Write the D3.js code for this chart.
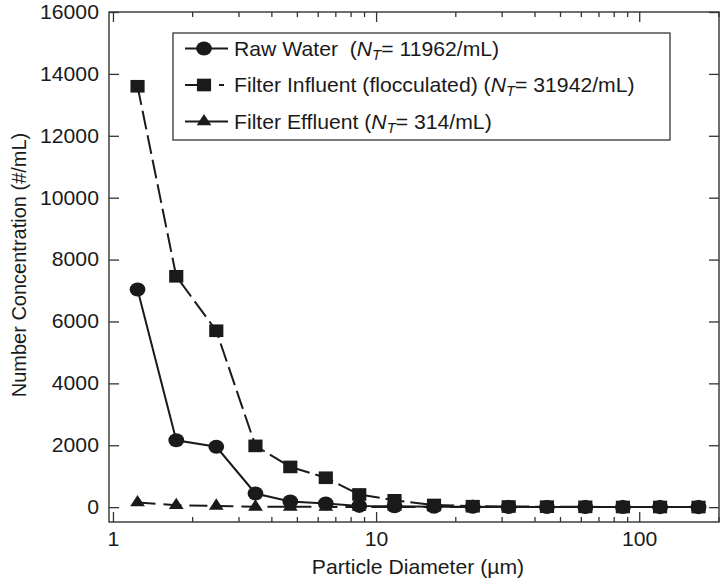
<!DOCTYPE html>
<html>
<head>
<meta charset="utf-8">
<script src="https://cdn.jsdelivr.net/npm/d3@7"></script>
<style>
  body { margin: 0; background: #fff; }
  svg { font-family: "Liberation Sans", Arial, Helvetica, sans-serif; }
  .axis path.domain { display: none; }
  .axis line { stroke: #333; stroke-width: 1.3; }
  .axis text { fill: #1a1a1a; font-size: 20px; }
</style>
</head>
<body>
<svg id="chart" width="722" height="584"></svg>
<script>
// particle size bins (µm) and counts (#/mL)
var diameters = [1.24, 1.74, 2.47, 3.48, 4.72, 6.44, 8.63, 11.75, 16.6, 23.3, 31.9, 44.6, 62.4, 86.7, 120, 168];
var rawWater = [7030, 2160, 1950, 440, 180, 120, 40, 30, 15, 10, 5, 5, 3, 2, 1, 1];
var filterInfluent = [13600, 7460, 5700, 1980, 1300, 950, 410, 220, 70, 30, 20, 15, 10, 5, 5, 3];
var filterEffluent = [150, 60, 40, 10, 10, 8, 6, 5, 5, 4, 3, 3, 2, 1, 1, 1];

var seriesNames = ["Raw Water", "Filter Influent (flocculated)", "Filter Effluent"];
var seriesTotals = ["11962/mL", "31942/mL", "314/mL"];
var seriesSpacer = ["  (", " (", " ("];

var yTicks = [0, 2000, 4000, 6000, 8000, 10000, 12000, 14000, 16000];
var xMajor = [1, 10, 100];
var xMinor = [2, 3, 4, 5, 6, 7, 8, 9, 20, 30, 40, 50, 60, 70, 80, 90, 200];

var sx = 1.06;   // text in the original runs a bit wide
var msx = 1.12;  // markers are a little wider than tall
var ink = "#1a1a1a";

var svg = d3.select("#chart");

var x = d3.scaleLog().domain([0.966, 201]).range([109, 719]);
var y = d3.scaleLinear().domain([-480, 16000]).range([522, 12]);

// frame
svg.append("rect")
    .attr("x", 109).attr("y", 12)
    .attr("width", 610).attr("height", 510)
    .attr("fill", "none").attr("stroke", "#333").attr("stroke-width", 1.4);

// bottom axis
svg.append("g").attr("class", "axis")
    .attr("transform", "translate(0,522)")
    .call(d3.axisBottom(x).tickValues(xMajor).tickFormat(d3.format("d")).tickSize(-10).tickPadding(10));
svg.append("g").attr("class", "axis")
    .attr("transform", "translate(0,522)")
    .call(d3.axisBottom(x).tickValues(xMinor).tickFormat("").tickSize(-5));

// top axis
svg.append("g").attr("class", "axis")
    .attr("transform", "translate(0,12)")
    .call(d3.axisTop(x).tickValues(xMajor).tickFormat("").tickSize(-10));
svg.append("g").attr("class", "axis")
    .attr("transform", "translate(0,12)")
    .call(d3.axisTop(x).tickValues(xMinor).tickFormat("").tickSize(-5));

// left + right axis
svg.append("g").attr("class", "axis")
    .attr("transform", "translate(109,0)")
    .call(d3.axisLeft(y).tickValues(yTicks).tickFormat(d3.format("d")).tickSize(-10).tickPadding(9.5));
svg.append("g").attr("class", "axis")
    .attr("transform", "translate(719,0)")
    .call(d3.axisRight(y).tickValues(yTicks).tickFormat("").tickSize(-10));

svg.selectAll(".axis text").attr("transform", "scale(" + sx + ",1)");

// axis titles
svg.append("text")
    .attr("transform", "translate(418,574) scale(" + sx + ",1)")
    .attr("text-anchor", "middle")
    .attr("fill", ink).style("font-size", "20px")
    .text("Particle Diameter (µm)");

svg.append("text")
    .attr("transform", "translate(26,265) rotate(-90)")
    .attr("text-anchor", "middle")
    .attr("fill", ink).style("font-size", "20px")
    .text("Number Concentration (#/mL)");

// series
var series = [
  { values: rawWater, dash: null, marker: d3.symbolCircle, size: 155 },
  { values: filterInfluent, dash: "19,6", marker: d3.symbolSquare, size: 160 },
  { values: filterEffluent, dash: "18,8", marker: d3.symbolTriangle, size: 75 }
];

var line = d3.line()
    .x(function(d) { return x(d[0]); })
    .y(function(d) { return y(d[1]); });

series.forEach(function(s) {
  var pts = diameters.map(function(d, i) { return [d, s.values[i]]; });
  svg.append("path")
      .datum(pts)
      .attr("d", line)
      .attr("fill", "none")
      .attr("stroke", ink)
      .attr("stroke-width", 2)
      .attr("stroke-dasharray", s.dash);
});

// markers drawn on top of all lines
series.forEach(function(s) {
  svg.append("g").selectAll("path")
    .data(diameters.map(function(d, i) { return [d, s.values[i]]; }))
    .enter().append("path")
      .attr("d", d3.symbol().type(s.marker).size(s.size))
      .attr("transform", function(d) { return "translate(" + x(d[0]) + "," + y(d[1]) + ") scale(" + msx + ",1)"; })
      .attr("fill", ink);
});

// legend
var legend = svg.append("g");
legend.append("rect")
    .attr("x", 173).attr("y", 33)
    .attr("width", 497).attr("height", 107)
    .attr("fill", "#fff").attr("stroke", "#444").attr("stroke-width", 1.4);

var legendDash = [null, "20,14,5,30", null];

series.forEach(function(s, i) {
  var cy = 48.5 + i * 36.5;
  legend.append("line")
      .attr("x1", 185).attr("x2", 228)
      .attr("y1", cy).attr("y2", cy)
      .attr("stroke", ink).attr("stroke-width", 2)
      .attr("stroke-dasharray", legendDash[i]);
  legend.append("path")
      .attr("d", d3.symbol().type(s.marker).size(s.size))
      .attr("transform", "translate(204," + cy + ") scale(" + msx + ",1)")
      .attr("fill", ink);

  var t = legend.append("text")
      .attr("transform", "translate(234," + (cy + 7) + ") scale(" + sx + ",1)")
      .attr("fill", ink)
      .style("font-size", "20px")
      .style("white-space", "pre");
  t.append("tspan").text(seriesNames[i] + seriesSpacer[i]);
  t.append("tspan").style("font-style", "italic").text("N");
  t.append("tspan").style("font-style", "italic").style("font-size", "14px").attr("dy", 4).text("T");
  t.append("tspan").attr("dy", -4).text("= " + seriesTotals[i] + ")");
});
</script>
</body>
</html>
